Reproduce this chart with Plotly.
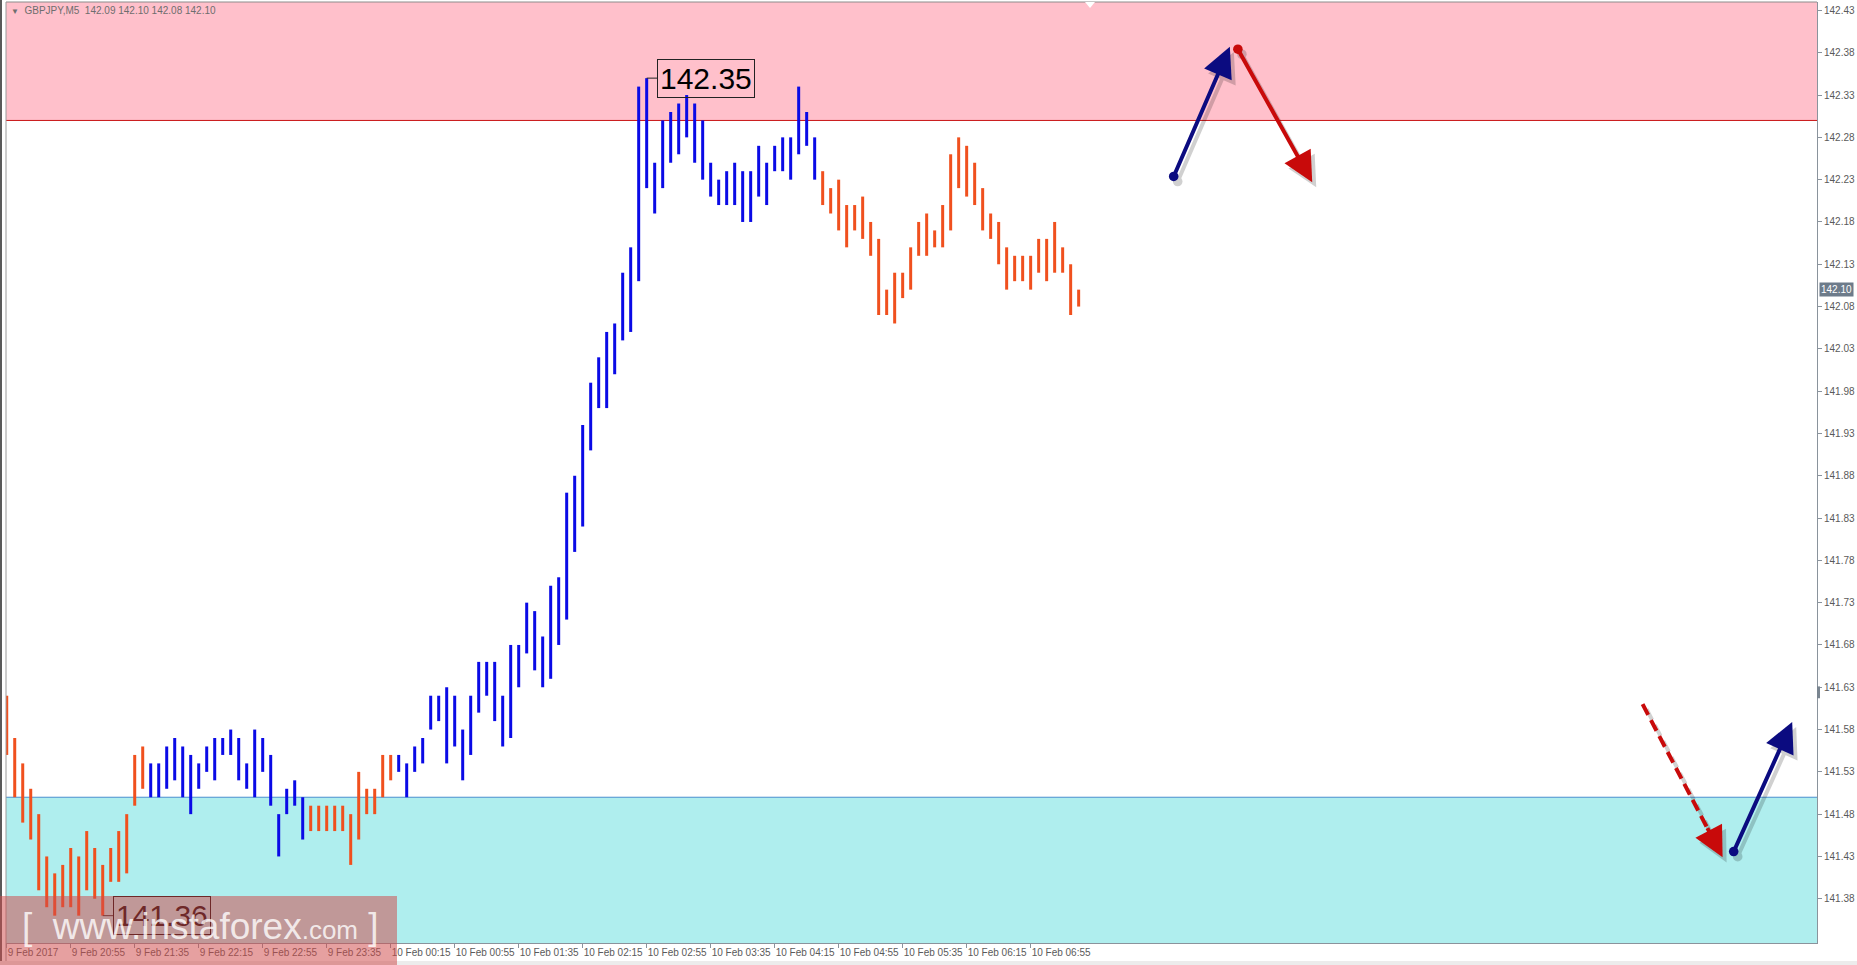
import plotly.graph_objects as go

# GBPJPY M5 bars, 9 Feb 2017 20:15 -> 10 Feb 07:25 (one entry per bar)
highs = [141.62, 141.57, 141.54, 141.51, 141.48, 141.43, 141.41, 141.42, 141.44, 141.43,
         141.46, 141.44, 141.42, 141.44, 141.46, 141.48, 141.55, 141.56, 141.54, 141.54,
         141.56, 141.57, 141.56, 141.55, 141.54, 141.56, 141.57, 141.57, 141.58, 141.57,
         141.54, 141.58, 141.57, 141.55, 141.48, 141.51, 141.52, 141.50, 141.49, 141.49,
         141.49, 141.49, 141.49, 141.48, 141.53, 141.51, 141.51, 141.55, 141.55, 141.55,
         141.54, 141.56, 141.57, 141.62, 141.62, 141.63, 141.62, 141.58, 141.62, 141.66,
         141.66, 141.66, 141.62, 141.68, 141.68, 141.73, 141.72, 141.69, 141.75, 141.76,
         141.86, 141.88, 141.94, 141.99, 142.02, 142.05, 142.06, 142.12, 142.15, 142.34,
         142.35, 142.25, 142.30, 142.31, 142.32, 142.33, 142.32, 142.30, 142.25, 142.23,
         142.24, 142.25, 142.24, 142.24, 142.27, 142.25, 142.27, 142.28, 142.28, 142.34,
         142.31, 142.28, 142.24, 142.22, 142.23, 142.20, 142.20, 142.21, 142.18, 142.16,
         142.10, 142.12, 142.12, 142.15, 142.18, 142.19, 142.17, 142.20, 142.26, 142.28,
         142.27, 142.25, 142.22, 142.19, 142.18, 142.15, 142.14, 142.14, 142.14, 142.16,
         142.16, 142.18, 142.15, 142.13, 142.10]
lows = [141.55, 141.50, 141.47, 141.45, 141.39, 141.37, 141.36, 141.37, 141.37, 141.36,
        141.39, 141.38, 141.36, 141.40, 141.40, 141.41, 141.49, 141.51, 141.50, 141.50,
        141.51, 141.52, 141.50, 141.48, 141.51, 141.53, 141.52, 141.55, 141.55, 141.52,
        141.51, 141.50, 141.53, 141.49, 141.43, 141.48, 141.49, 141.45, 141.46, 141.46,
        141.46, 141.46, 141.46, 141.42, 141.45, 141.48, 141.48, 141.50, 141.52, 141.53,
        141.50, 141.53, 141.54, 141.58, 141.59, 141.54, 141.56, 141.52, 141.55, 141.60,
        141.62, 141.59, 141.56, 141.57, 141.63, 141.67, 141.65, 141.63, 141.64, 141.68,
        141.71, 141.79, 141.82, 141.91, 141.96, 141.96, 142.00, 142.04, 142.05, 142.11,
        142.22, 142.19, 142.22, 142.25, 142.26, 142.28, 142.25, 142.23, 142.21, 142.20,
        142.20, 142.20, 142.18, 142.18, 142.21, 142.20, 142.24, 142.24, 142.23, 142.26,
        142.27, 142.23, 142.20, 142.19, 142.17, 142.15, 142.17, 142.16, 142.14, 142.07,
        142.07, 142.06, 142.09, 142.10, 142.14, 142.14, 142.15, 142.15, 142.17, 142.22,
        142.21, 142.20, 142.17, 142.16, 142.13, 142.10, 142.11, 142.11, 142.10, 142.12,
        142.11, 142.12, 142.12, 142.07, 142.08]

# zigzag waves: first bar of each wave and its direction
wave_starts = [0, 18, 38, 49, 102]
wave_dirs = ["down", "up", "down", "up", "down"]

# one time label every 8 bars (40 minutes)
time_labels = ["9 Feb 2017", "9 Feb 20:55", "9 Feb 21:35", "9 Feb 22:15", "9 Feb 22:55",
               "9 Feb 23:35", "10 Feb 00:15", "10 Feb 00:55", "10 Feb 01:35", "10 Feb 02:15",
               "10 Feb 02:55", "10 Feb 03:35", "10 Feb 04:15", "10 Feb 04:55", "10 Feb 05:35",
               "10 Feb 06:15", "10 Feb 06:55"]
price_ticks = [141.38, 141.43, 141.48, 141.53, 141.58, 141.63, 141.68, 141.73, 141.78, 141.83,
               141.88, 141.93, 141.98, 142.03, 142.08, 142.13, 142.18, 142.23, 142.28, 142.33,
               142.38, 142.43]

symbol = "GBPJPY,M5"
last_ohlc = [142.09, 142.10, 142.08, 142.10]
resistance = 142.30   # lower edge of the pink zone
support = 141.50      # upper edge of the blue zone
high_mark = 142.35
low_mark = 141.36

# forecast arrows: (bar, price) tail -> (bar, price) head
arrow_up1 = [(145.8, 142.232), (152.9, 142.387)]
arrow_down1 = [(153.8, 142.386), (163.2, 142.227)]
arrow_down2 = [(204.5, 141.610), (214.5, 141.429)]   # dashed
arrow_up2 = [(215.8, 141.434), (223.2, 141.589)]

W, H = 1857, 965
ML, MR, MT, MB = 6, 40, 2, 22
PW, PH = W - ML - MR, H - MT - MB
X_RANGE = [-0.09, 226.3]
Y_RANGE = [141.3277, 142.440]

BLUE = "#0A0AE6"
ORANGE = "#F0501E"
NAVY = "#0B0B80"
RED = "#C80A0A"
AXIS = "#8A939C"
TXT = "#5A5A5A"
FONT = "Liberation Sans, Arial, sans-serif"


def px_x(px):
    return (px - ML) / PW


def px_y(py):
    return (H - MB - py) / PH


fig = go.Figure()

# bars, grouped by wave colour
for w, start in enumerate(wave_starts):
    end = wave_starts[w + 1] if w + 1 < len(wave_starts) else len(highs)
    xs, ys = [], []
    for i in range(start, end):
        xs += [i, i, None]
        ys += [lows[i], highs[i], None]
    fig.add_trace(go.Scatter(
        x=xs, y=ys, mode="lines",
        line=dict(color=BLUE if wave_dirs[w] == "up" else ORANGE, width=3),
        hoverinfo="skip", showlegend=False,
    ))

shapes = []
# zones
shapes.append(dict(type="rect", xref="paper", yref="y", x0=0, x1=1, y0=resistance, y1=Y_RANGE[1],
                   fillcolor="#FFC0CB", line_width=0, layer="below"))
shapes.append(dict(type="rect", xref="paper", yref="y", x0=0, x1=1, y0=Y_RANGE[0], y1=support,
                   fillcolor="#AFEEEE", line_width=0, layer="below"))
shapes.append(dict(type="line", xref="paper", yref="y", x0=0, x1=1, y0=resistance, y1=resistance,
                   line=dict(color="#C81414", width=1), layer="below"))
shapes.append(dict(type="line", xref="paper", yref="y", x0=0, x1=1, y0=support, y1=support,
                   line=dict(color="#4A8FCF", width=1), layer="below"))

# connectors for high / low labels
shapes.append(dict(type="line", xref="x", yref="y", x0=80, x1=81.3, y0=high_mark, y1=high_mark,
                   line=dict(color="#222", width=1)))
shapes.append(dict(type="line", xref="x", yref="y", x0=12, x1=13.3, y0=low_mark, y1=low_mark,
                   line=dict(color="#222", width=1)))

# dashed red line (head drawn as annotation)
(dx0, dy0), (dx1, dy1) = arrow_down2
for off, col in [((0.5, -0.006), "rgba(0,0,0,0.18)"), ((0, 0), RED)]:
    shapes.append(dict(type="line", xref="x", yref="y",
                       x0=dx0 + off[0], y0=dy0 + off[1],
                       x1=dx1 - 0.15 * (dx1 - dx0) + off[0], y1=dy1 - 0.15 * (dy1 - dy0) + off[1],
                       line=dict(color=col, width=4, dash="12px,6px")))

# window frame / ui bits
shapes.append(dict(type="line", xref="paper", yref="paper", x0=0, x1=1, y0=1, y1=1,
                   line=dict(color="#8C8C8C", width=1)))
shapes.append(dict(type="line", xref="paper", yref="paper", x0=0, x1=0, y0=px_y(H), y1=1,
                   line=dict(color="#9A9A9A", width=1)))
shapes.append(dict(type="line", xref="paper", yref="paper", x0=px_x(1), x1=px_x(1), y0=px_y(H), y1=px_y(0),
                   line=dict(color="#5A5A5A", width=2)))
shapes.append(dict(type="rect", xref="paper", yref="paper", x0=px_x(0), x1=px_x(W), y0=px_y(H), y1=px_y(961),
                   fillcolor="#ECECEC", line_width=0))
shapes.append(dict(type="rect", xref="paper", yref="y", x0=1, x1=1 + 3 / PW, y0=141.617, y1=141.631,
                   fillcolor="#7A8590", line_width=0))
shapes.append(dict(type="path", xref="paper", yref="paper",
                   path=f"M{px_x(1085)},{px_y(2)} L{px_x(1095)},{px_y(2)} L{px_x(1090)},{px_y(8)} Z",
                   fillcolor="white", line_width=0))

# watermark box
shapes.append(dict(type="rect", xref="paper", yref="paper", x0=px_x(0), x1=px_x(397),
                   y0=px_y(H), y1=px_y(896), fillcolor="rgba(208,75,75,0.53)", line_width=0, layer="above"))

annotations = []


def arrow(tail, head, color, dot=True, shadow=True):
    out = []
    (x0, y0), (x1, y1) = tail, head
    layers = [((0.5, -0.006), "rgba(0,0,0,0.18)")] if shadow else []
    layers.append(((0, 0), color))
    for (ox, oy), col in layers:
        a = dict(x=x1 + ox, y=y1 + oy, ax=x0 + ox, ay=y0 + oy, xref="x", yref="y", axref="x", ayref="y",
                 text="", showarrow=True, arrowhead=2, arrowsize=1.5, arrowwidth=4, arrowcolor=col,
                 standoff=0, startstandoff=0)
        if dot:
            a.update(arrowside="end+start", startarrowhead=6, startarrowsize=0.6)
        out.append(a)
    return out


annotations += arrow(*arrow_up1, NAVY)
annotations += arrow(*arrow_down1, RED)
annotations += arrow(*arrow_up2, NAVY)
# dashed arrow head only
(hx0, hy0), (hx1, hy1) = arrow_down2
annotations += arrow((hx1 - 0.2 * (hx1 - hx0), hy1 - 0.2 * (hy1 - hy0)), (hx1, hy1), RED, dot=False)

# high / low labels
annotations.append(dict(x=81.3, y=high_mark, xref="x", yref="y", xanchor="left", yanchor="middle",
                        text=f"{high_mark:.2f}", showarrow=False, bordercolor="#222", borderwidth=1,
                        borderpad=2, font=dict(family=FONT, size=30, color="#000")))
annotations.append(dict(x=13.3, y=low_mark, xref="x", yref="y", xanchor="left", yanchor="middle",
                        text=f"{low_mark:.2f}", showarrow=False, bordercolor="#6E2828", borderwidth=1,
                        borderpad=2, font=dict(family=FONT, size=30, color="#6E2828")))

# watermark text
annotations.append(dict(x=px_x(200), y=px_y(926), xref="paper", yref="paper", xanchor="center",
                        yanchor="middle", showarrow=False,
                        text="[ &nbsp;www.instaforex<span style='font-size:26px'>.com</span> ]",
                        font=dict(family=FONT, size=37, color="rgba(255,255,255,0.8)")))

# header
annotations.append(dict(x=px_x(9), y=px_y(11), xref="paper", yref="paper", xanchor="left",
                        yanchor="middle", showarrow=False,
                        text="<span style='font-size:8px'>▼</span>  " + symbol + "  "
                             + " ".join(f"{v:.2f}" for v in last_ohlc),
                        font=dict(family=FONT, size=10, color="#6E6E6E")))

# current price tag on the price scale
annotations.append(dict(x=1, y=last_ohlc[3], xref="paper", yref="y", xanchor="left", yanchor="middle",
                        xshift=2, showarrow=False, text=f"{last_ohlc[3]:.2f}", bgcolor="#6D7B8A",
                        borderpad=1, font=dict(family=FONT, size=10, color="white")))

fig.update_layout(
    width=W, height=H,
    margin=dict(l=ML, r=MR, t=MT, b=MB),
    paper_bgcolor="white", plot_bgcolor="white",
    showlegend=False, hovermode=False,
    shapes=shapes, annotations=annotations,
    xaxis=dict(range=X_RANGE, showgrid=False, zeroline=False, showline=True, linecolor=AXIS,
               ticks="outside", ticklen=4, tickcolor=AXIS, automargin=False, tickangle=0,
               tickvals=list(range(0, 8 * len(time_labels), 8)), ticktext=time_labels,
               ticklabelposition="outside right",
               tickfont=dict(family=FONT, size=10, color=TXT)),
    yaxis=dict(range=Y_RANGE, side="right", showgrid=False, zeroline=False, showline=True,
               linecolor=AXIS, ticks="outside", ticklen=4, tickcolor=AXIS, automargin=False,
               tickvals=price_ticks, ticktext=[f"{p:.2f}" for p in price_ticks],
               tickfont=dict(family=FONT, size=10, color=TXT)),
)

# page has a default 8px body margin; drop it so the figure fills the window exactly
fig.write_html("out.html", config={"displayModeBar": False},
               post_script="document.body.style.margin='0';document.body.style.overflow='hidden';")
